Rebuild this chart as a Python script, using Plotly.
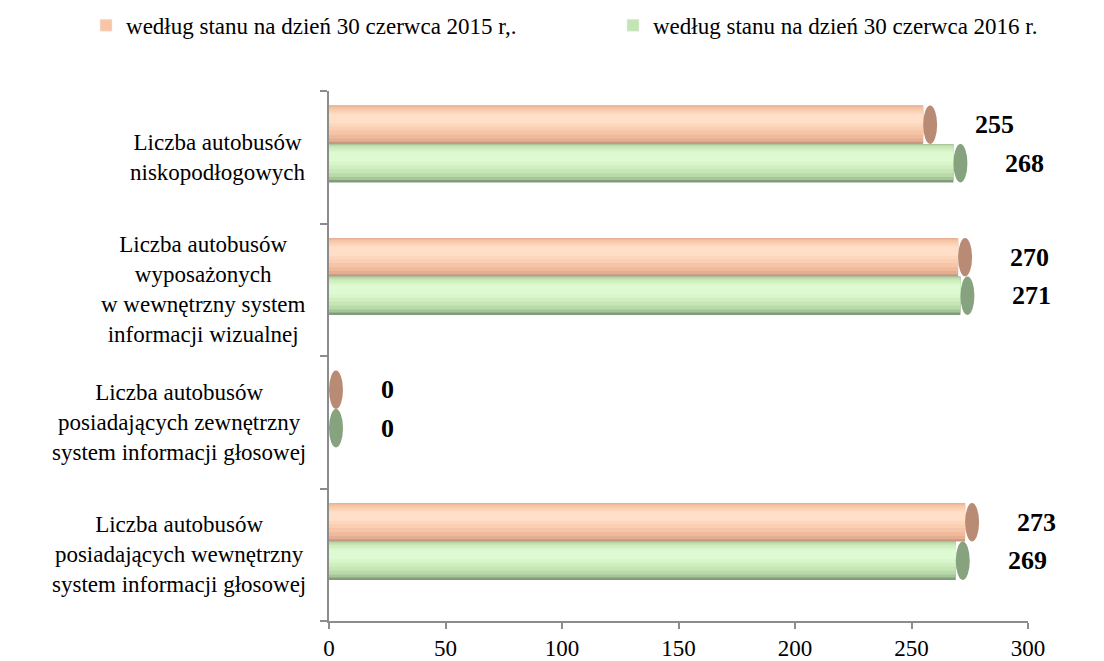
import plotly.graph_objects as go

categories = [
    "Liczba autobusów<br>niskopodłogowych",
    "Liczba autobusów<br>wyposażonych<br>w wewnętrzny system<br>informacji wizualnej",
    "Liczba autobusów<br>posiadających zewnętrzny<br>system informacji głosowej",
    "Liczba autobusów<br>posiadających wewnętrzny<br>system informacji głosowej",
]
series_names = ["według stanu na dzień 30 czerwca 2015 r,.",
                "według stanu na dzień 30 czerwca 2016 r."]
values_2015 = [255, 270, 0, 273]
values_2016 = [268, 271, 0, 269]
x_ticks = [0, 50, 100, 150, 200, 250, 300]

FONT = "Liberation Serif"
positions = list(range(len(categories)))

BAR_W = 0.29
# shading layers: (top fraction, bottom fraction, colour)
orange_layers = [(0, 1, "#C99780"), (0, 0.94, "#E3AE92"), (0.02, 0.86, "#EFBA9C"),
                 (0.05, 0.76, "#F6C4A6"), (0.10, 0.65, "#FACEB1"),
                 (0.16, 0.55, "#FDD7BD"), (0.22, 0.46, "#FFDFC7")]
green_layers = [(0, 1, "#809D79"), (0, 0.94, "#A6C59B"), (0.02, 0.86, "#B9DAA9"),
                (0.05, 0.76, "#C6E6B5"), (0.10, 0.65, "#D0EFC0"),
                (0.16, 0.55, "#D8F6CA"), (0.22, 0.46, "#DEFAD2")]
series = [
    dict(name=series_names[0], values=values_2015, off=-0.39, legend="legend",
         layers=orange_layers, legend_color="#F8C6A6", cap="#B98B74"),
    dict(name=series_names[1], values=values_2016, off=-0.10, legend="legend2",
         layers=green_layers, legend_color="#C5E4B3", cap="#86A27E"),
]

fig = go.Figure()
shapes = []
annotations = []
for s in series:
    for li, (t, b, col) in enumerate(s["layers"]):
        fig.add_trace(go.Bar(
            y=positions, x=s["values"], orientation="h",
            offset=s["off"] + t * BAR_W, width=(b - t) * BAR_W,
            marker=dict(color=col, line=dict(width=0)),
            name=s["name"], showlegend=False, hoverinfo="skip",
        ))
    # legend entry
    fig.add_trace(go.Bar(y=[None], x=[None], orientation="h", name=s["name"],
                         marker=dict(color=s["legend_color"]), showlegend=True,
                         legend=s["legend"], hoverinfo="skip"))
    for p, v in zip(positions, s["values"]):
        shapes.append(dict(type="circle", xref="x", yref="y",
                           x0=v, x1=v + 6, y0=p + s["off"], y1=p + s["off"] + BAR_W,
                           fillcolor=s["cap"], line=dict(width=0), layer="above"))
        annotations.append(dict(x=v, y=p + s["off"] + BAR_W / 2, xref="x", yref="y",
                                text="<b>%d</b>" % v, showarrow=False, xanchor="left",
                                xshift=50, font=dict(family=FONT, size=26, color="black")))

for p, c in zip(positions, categories):
    annotations.append(dict(x=0, y=p, xref="paper", yref="y", text=c,
                            showarrow=False, xanchor="right", yanchor="middle",
                            xshift=-21, align="center",
                            font=dict(family=FONT, size=23, color="black")))

legend_style = dict(orientation="h", xanchor="left", y=1.124, yanchor="middle",
                    font=dict(family=FONT, size=23, color="black"),
                    itemclick=False, itemdoubleclick=False)

fig.update_layout(
    width=1104, height=661,
    margin=dict(l=321, r=84, t=83, b=48, autoexpand=False),
    paper_bgcolor="white", plot_bgcolor="white",
    barmode="overlay",
    font=dict(family=FONT, size=23, color="black"),
    shapes=shapes, annotations=annotations,
    legend=dict(x=-0.3476, **legend_style),
    legend2=dict(x=0.4063, **legend_style),
    showlegend=True,
)
fig.update_xaxes(range=[0, 300], tickvals=x_ticks, showgrid=False, zeroline=False,
                 showline=True, linecolor="#8C8C8C", linewidth=1.5,
                 ticks="outside", ticklen=6, tickcolor="#8C8C8C", tickwidth=1.5,
                 tickfont=dict(family=FONT, size=23, color="black"))
fig.update_yaxes(range=[3.5, -0.5], tickvals=[-0.5, 0.5, 1.5, 2.5, 3.5],
                 ticktext=["", "", "", "", ""], showgrid=False, zeroline=False,
                 showline=True, linecolor="#8C8C8C", linewidth=1.5,
                 ticks="outside", ticklen=7, tickcolor="#8C8C8C", tickwidth=1.5)

fig.write_html("out.html")
